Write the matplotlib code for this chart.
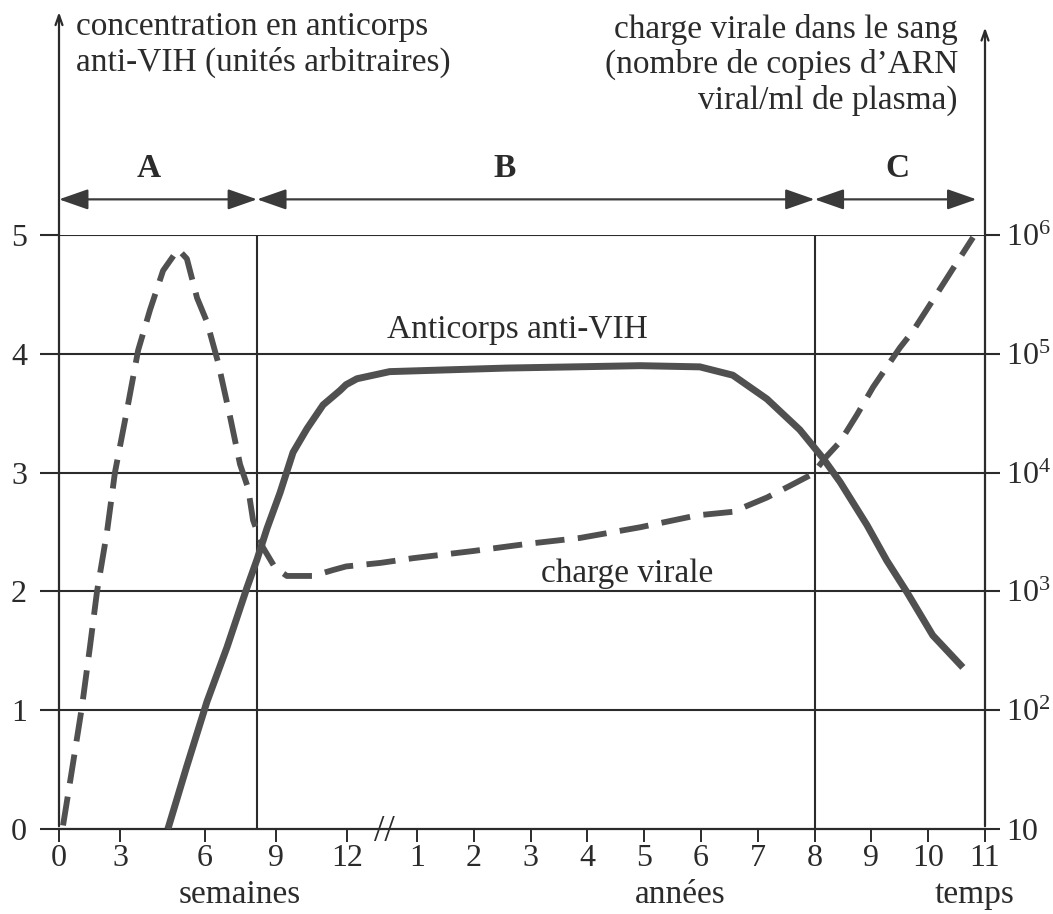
import numpy as np
import matplotlib
matplotlib.use('Agg')
import matplotlib.pyplot as plt

plt.rcParams['font.family'] = ['Liberation Serif', 'DejaVu Serif']
plt.rcParams['mathtext.fontset'] = 'stix'

YEAR = 52  # weeks in a year

# time axis graduations
week_ticks = [0, 3, 6, 9, 12]
year_ticks = [1, 2, 3, 4, 5, 6, 7, 8, 9, 10, 11]
tick_labels = [str(w) for w in week_ticks] + [str(y) for y in year_ticks]

# viral load (log10 copies/ml), first weeks then years
virus_weeks = [0.2, 0.64, 1.13, 1.52, 1.87, 2.36, 2.75, 3.25, 3.64, 4.06, 4.52, 5.05,
               5.36, 5.72, 6.08, 6.55, 7.06, 7.48, 7.82, 8.03, 8.45, 8.96, 9.46, 10.56, 11.41]
virus_weeks_log = [1.03, 1.5, 2.03, 2.53, 3.0, 3.5, 4.0, 4.53, 5.03, 5.37, 5.7, 5.88,
                   5.8, 5.47, 5.27, 4.93, 4.47, 4.07, 3.87, 3.6, 3.37, 3.2, 3.13, 3.13, 3.18]
virus_years = [0.23, 0.6, 0.96, 1.99, 2.94, 3.87, 4.93, 5.93, 6.56, 7.16, 7.57, 7.97,
               8.18, 8.45, 8.75, 9.03, 9.5, 9.73, 10.08, 10.44, 10.79]
virus_years_log = [3.21, 3.24, 3.28, 3.34, 3.40, 3.45, 3.54, 3.64, 3.67, 3.79, 3.89, 3.99,
                   4.12, 4.26, 4.49, 4.72, 5.05, 5.19, 5.45, 5.72, 5.98]

# anti-HIV antibodies (arbitrary units)
ab_weeks = [4.69, 5.36, 6.08, 6.93, 7.77, 8.2, 8.62, 9.17, 9.72, 10.31, 10.99, 11.70]
ab_weeks_val = [0, 0.53, 1.07, 1.53, 2.03, 2.27, 2.53, 2.83, 3.17, 3.37, 3.57, 3.69]
ab_years = [0.23, 0.34, 0.70, 2.58, 4.93, 5.98, 6.56, 7.16, 7.74, 8.15, 8.45, 8.92,
            9.27, 9.63, 10.08, 10.61]
ab_years_val = [3.74, 3.79, 3.85, 3.88, 3.9, 3.89, 3.82, 3.62, 3.36, 3.12, 2.92, 2.56,
                2.26, 1.99, 1.63, 1.36]

phases = ['A', 'B', 'C']
phase_limits = [0, 8.2, 8 * YEAR, 10.85 * YEAR]  # weeks
phase_label_at = [4.0, 2.55 * YEAR, 9.45 * YEAR]

# where the graduations sit on the drawn axis (pixels of the figure)
tick_times = np.array(week_ticks + [y * YEAR for y in year_ticks], dtype=float)
tick_px = np.array([59, 120, 205, 276, 347] + list(np.linspace(417, 985, 11)))


def fwd(t):
    return np.interp(t, tick_times, tick_px)


def inv(p):
    return np.interp(p, tick_px, tick_times)


W, H = 1053, 914
fig = plt.figure(figsize=(W / 100, H / 100), dpi=100)
ax = fig.add_axes([59 / W, 1 - 829 / H, (985 - 59) / W, (829 - 235) / H])
ax.set_xscale('function', functions=(fwd, inv))
ax.set_xlim(0, 11 * YEAR)
ax.set_ylim(0, 5)

ink = '#2b2b2b'
curve = '#505050'
FS = 24
TFS = 23

for s in ['top', 'left', 'right']:
    ax.spines[s].set_visible(False)
ax.spines['bottom'].set_linewidth(1.6)
ax.spines['bottom'].set_color(ink)

# horizontal grid and the two phase boundaries
for yv in range(1, 6):
    ax.axhline(yv, color=ink, lw=1.5, zorder=1)
for xv in phase_limits[1:3]:
    ax.axvline(xv, ymin=0, ymax=1, color=ink, lw=1.5, zorder=1)

ax.set_xticks(tick_times)
ax.set_xticklabels(tick_labels)
ax.set_yticks(range(0, 6))
ax.tick_params(axis='x', direction='out', length=9, width=1.4, color=ink,
               labelsize=TFS, pad=2, labelcolor=ink)
ax.tick_params(axis='y', direction='out', length=14, width=1.5, color=ink,
               labelsize=TFS, pad=9, labelcolor=ink)
ax.minorticks_off()

# antibody curve (solid)
ab_t = np.array(ab_weeks + [y * YEAR for y in ab_years])
ab_v = np.array(ab_weeks_val + ab_years_val)
ax.plot(ab_t, ab_v, color=curve, lw=5, solid_capstyle='butt', zorder=3)

# viral load on the right log axis (dashed)
ax2 = ax.twinx()
ax2.set_yscale('log')
ax2.set_ylim(10, 1e6)
for s in ['top', 'left', 'right', 'bottom']:
    ax2.spines[s].set_visible(False)
ax2.set_yticks([10, 1e2, 1e3, 1e4, 1e5, 1e6])
ax2.set_yticklabels(['10', r'$\mathregular{10^2}$', r'$\mathregular{10^3}$',
                     r'$\mathregular{10^4}$', r'$\mathregular{10^5}$', r'$\mathregular{10^6}$'])
ax2.minorticks_off()
ax2.tick_params(axis='y', direction='out', length=11, width=1.5, color=ink,
                labelsize=TFS, pad=4, labelcolor=ink)
vir_t = np.array(virus_weeks + [y * YEAR for y in virus_years])
vir_v = 10 ** np.array(virus_weeks_log + virus_years_log)
ax2.plot(vir_t, vir_v, color=curve, lw=4.2, dashes=(5, 2.3), zorder=3)

# vertical axes with arrows
for xf, top in [(0, 6.9), (1, 6.77)]:
    ax.annotate('', xy=(xf, top), xytext=(xf, 0), xycoords=('axes fraction', 'data'),
                arrowprops=dict(arrowstyle='->,head_length=0.7,head_width=0.25',
                                color=ink, lw=1.6),
                annotation_clip=False)

# phase arrows
for name, a, b, lx in zip(phases, phase_limits[:-1], phase_limits[1:], phase_label_at):
    ax.annotate('', xy=(b, 5.3), xytext=(a, 5.3),
                arrowprops=dict(arrowstyle='<|-|>,head_length=1.0,head_width=0.35',
                                color='#3a3a3a', lw=1.6, mutation_scale=18,
                                shrinkA=0, shrinkB=0),
                annotation_clip=False)
    ax.text(lx, 5.43, name, ha='center', va='bottom', fontsize=FS,
            fontweight='bold', color=ink, clip_on=False)

# axis break on time axis
ax.annotate('//', xy=(inv(384), 0), xytext=(0, -2), textcoords='offset points',
            ha='center', va='center', fontsize=27, color=ink, annotation_clip=False)

# curve labels
ax.text(2.76 * YEAR, 4.2, 'Anticorps anti-VIH', ha='center', va='center',
        fontsize=FS, color=ink)
ax.text(4.7 * YEAR, 2.15, 'charge virale', ha='center', va='center',
        fontsize=FS, color=ink)

# axis titles
fig.text(76 / W, 1 - 11 / H, 'concentration en anticorps\nanti-VIH (unités arbitraires)',
         ha='left', va='top', fontsize=FS, color=ink, linespacing=1.2)
fig.text(958 / W, 1 - 14 / H,
         'charge virale dans le sang\n(nombre de copies d\u2019ARN\nviral/ml de plasma)',
         ha='right', va='top', fontsize=FS, color=ink, linespacing=1.17,
         multialignment='right')
fig.text(240 / W, 1 - 895 / H, 'semaines', ha='center', va='center', fontsize=FS, color=ink)
fig.text(680 / W, 1 - 895 / H, 'années', ha='center', va='center', fontsize=FS, color=ink)
fig.text(975 / W, 1 - 895 / H, 'temps', ha='center', va='center', fontsize=FS, color=ink)

fig.savefig('out.png', dpi=100, facecolor='white')
